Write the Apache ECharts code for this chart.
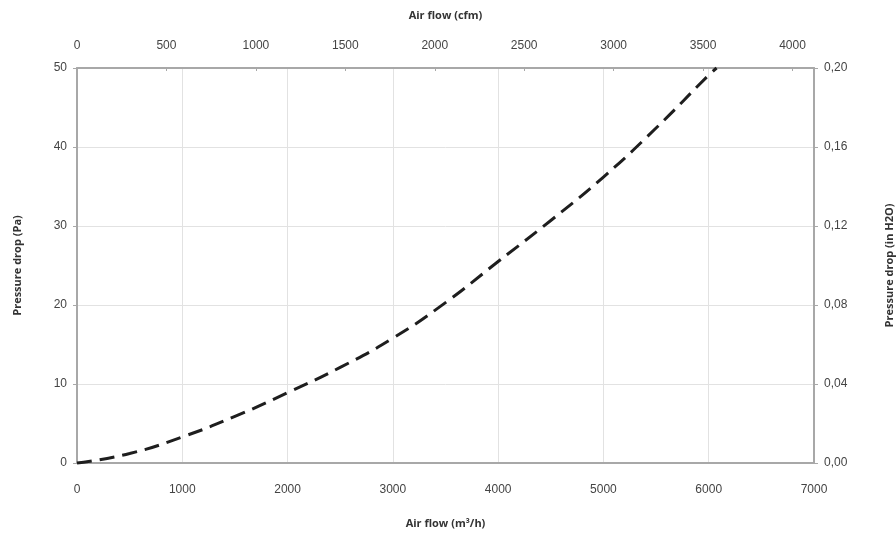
<!DOCTYPE html>
<html>
<head>
<meta charset="utf-8">
<script src="https://cdn.jsdelivr.net/npm/echarts@6/dist/echarts.min.js"></script>
<style>
  html, body { margin: 0; padding: 0; background: #fff; }
  #chart { width: 896px; height: 539px; }
</style>
</head>
<body>
<div id="chart"></div>
<script>
// air flow (m3/h) and pressure drop (Pa)
const airFlow = [0, 500, 1000, 1500, 2000, 2500, 3000, 3500, 4000, 4500, 5000, 5500, 6000, 6075];
const pressure = [0, 1.2, 3.3, 5.9, 8.9, 12.1, 15.8, 20.3, 25.5, 30.7, 36.2, 42.4, 49.1, 50];

const M3H_MAX = 7000;
const CFM_MAX = M3H_MAX / 1.699;
const PA_MAX = 50;
const INH2O_MAX = 0.2;

const labelFont = "Liberation Sans";
const titleFont = "Open Sans";
const axisGrey = "#a8a8a8";
const gridGrey = "#e2e2e2";
const textGrey = "#444";

let myChart = echarts.init(document.getElementById("chart"));

let points = airFlow.map((q, i) => [q, pressure[i]]);

let nameStyle = {
  fontFamily: titleFont,
  fontWeight: "bold",
  fontSize: 11,
  color: "#333"
};

let option = {
  animation: false,
  grid: {
    left: 77,
    right: 82,
    top: 68,
    bottom: 76,
    outerBoundsMode: "none"
  },
  xAxis: [
    {
      type: "value",
      position: "bottom",
      min: 0,
      max: M3H_MAX,
      interval: 1000,
      name: "Air flow (m³/h)",
      nameLocation: "middle",
      nameGap: 55,
      nameTextStyle: nameStyle,
      axisLine: { show: true, onZero: false, lineStyle: { color: axisGrey, width: 2 } },
      axisTick: { show: false },
      axisLabel: {
        margin: 21,
        fontFamily: labelFont,
        fontSize: 12,
        color: textGrey,
        formatter: v => String(v)
      },
      splitLine: { show: true, lineStyle: { color: gridGrey, width: 1 } }
    },
    {
      type: "value",
      position: "top",
      min: 0,
      max: CFM_MAX,
      interval: 500,
      name: "Air flow (cfm)",
      nameLocation: "middle",
      nameGap: 47,
      nameTextStyle: nameStyle,
      axisLine: { show: true, onZero: false, lineStyle: { color: axisGrey, width: 2 } },
      axisTick: { show: true, inside: true, length: 3, lineStyle: { color: axisGrey } },
      axisLabel: {
        margin: 16,
        showMaxLabel: false,
        fontFamily: labelFont,
        fontSize: 12,
        color: textGrey,
        formatter: v => (v % 500 === 0 ? String(v) : "")
      },
      splitLine: { show: false }
    }
  ],
  yAxis: [
    {
      type: "value",
      position: "left",
      min: 0,
      max: PA_MAX,
      interval: 10,
      name: "Pressure drop (Pa)",
      nameLocation: "middle",
      nameGap: 54,
      nameRotate: 90,
      nameTextStyle: nameStyle,
      axisLine: { show: true, onZero: false, lineStyle: { color: axisGrey, width: 2 } },
      axisTick: { show: true, length: 4, lineStyle: { color: axisGrey } },
      axisLabel: {
        margin: 10,
        fontFamily: labelFont,
        fontSize: 12,
        color: textGrey
      },
      splitLine: { show: true, lineStyle: { color: gridGrey, width: 1 } }
    },
    {
      type: "value",
      position: "right",
      min: 0,
      max: INH2O_MAX,
      interval: 0.04,
      name: "Pressure drop (in H2O)",
      nameLocation: "middle",
      nameGap: 70,
      nameRotate: 90,
      nameTextStyle: nameStyle,
      axisLine: { show: true, onZero: false, lineStyle: { color: axisGrey, width: 2 } },
      axisTick: { show: true, length: 4, lineStyle: { color: axisGrey } },
      axisLabel: {
        margin: 10,
        fontFamily: labelFont,
        fontSize: 12,
        color: textGrey,
        formatter: v => v.toFixed(2).replace(".", ",")
      },
      splitLine: { show: false }
    }
  ],
  series: [
    {
      type: "line",
      xAxisIndex: 0,
      yAxisIndex: 0,
      data: points,
      smooth: true,
      showSymbol: false,
      clip: false,
      lineStyle: {
        color: "#1e1e1e",
        width: 3,
        type: [15, 8]
      }
    }
  ]
};

myChart.setOption(option);
</script>
</body>
</html>
